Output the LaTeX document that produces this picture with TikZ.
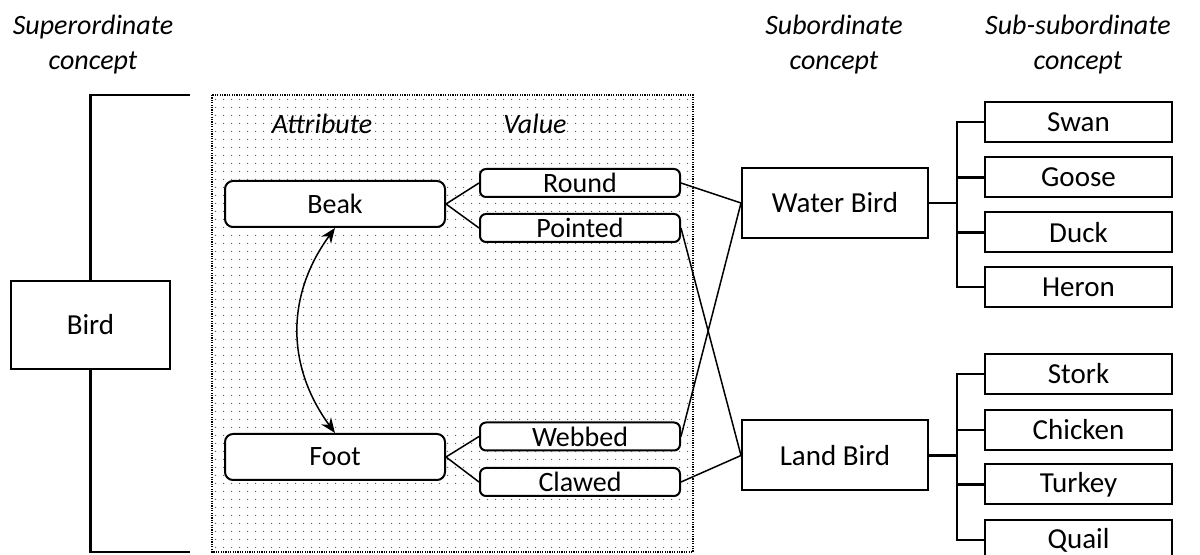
\documentclass[tikz,border=0pt]{standalone}
\usepackage{fontspec}
\setmainfont{Carlito}
\usetikzlibrary{patterns.meta,arrows.meta}
\begin{document}
\begin{tikzpicture}[x=0.5pt,y=-0.5pt,
 box/.style={draw,line width=1pt,inner sep=0pt,font=\fontsize{14.5}{17}\selectfont,fill=white},
 big/.style={box,minimum width=93pt,minimum height=35pt},
 leaf/.style={box,minimum width=93.5pt,minimum height=20pt},
 attr/.style={box,rounded corners=4pt,minimum width=110pt,minimum height=23pt,font=\fontsize{14}{17}\selectfont},
 val/.style={box,rounded corners=3pt,minimum width=100pt,minimum height=14pt,font=\fontsize{14}{17}\selectfont},
 head/.style={align=center,font=\fontsize{14}{17.5}\selectfont\itshape,inner sep=0pt},
 conn/.style={line width=0.75pt},
 tree/.style={line width=1.4pt},
 bracket/.style={line width=1.4pt}]
\useasboundingbox (0,0) rectangle (1200,555);
\clip (0,0) rectangle (1200,555);

% headers
\node[head] (hsup) at (93,45) {Superordinate\\concept};
\node[head] (hsub) at (834,45) {Subordinate\\concept};
\node[head] (hssub) at (1078,45) {Sub-subordinate\\concept};

% dotted region
\draw[line width=0.8pt,dash pattern=on 0.6pt off 0.6pt,
      pattern={Dots[distance=4pt,radius=0.4pt]},pattern color=black!60]
  (212,95) rectangle (693,552);
\node[head] (hattr) at (322,124) {Attribute};
\node[head] (hval) at (535,124) {Value};

% bird bracket
\node[box,minimum width=79.5pt,minimum height=44pt] (bird) at (90.5,325) {Bird};
\coordinate (bt) at (190,95);
\coordinate (bb) at (190,552);
\draw[bracket] (bt) -| (bird.north);
\draw[bracket] (bird.south) |- (bb);

% attributes and values
\node[attr] (beak) at (335,204) {Beak};
\node[attr] (foot) at (335,457) {Foot};
\node[val] (round) at (580,183) {Round};
\node[val] (pointed) at (580,228) {Pointed};
\node[val] (webbed) at (580,436.5) {Webbed};
\node[val] (clawed) at (580,482) {Clawed};

\draw[conn] (beak.east) -- (round.west);
\draw[conn] (beak.east) -- (pointed.west);
\draw[conn] (foot.east) -- (webbed.west);
\draw[conn] (foot.east) -- (clawed.west);

\draw[conn,{Stealth[length=7.5pt,width=6pt]}-{Stealth[length=7.5pt,width=6pt]}]
  (beak.south) .. controls (286,295) and (286,366) .. (foot.north);

% subordinate
\node[big] (water) at (835,203) {Water Bird};
\node[big] (land) at (835,455.5) {Land Bird};

\draw[conn] (round.east) -- (water.west);
\draw[conn] (webbed.east) -- (water.west);
\draw[conn] (pointed.east) -- (land.west);
\draw[conn] (clawed.east) -- (land.west);

% sub-subordinate
\node[leaf] (swan) at (1078.5,122) {Swan};
\node[leaf] (goose) at (1078.5,177.5) {Goose};
\node[leaf] (duck) at (1078.5,232.5) {Duck};
\node[leaf] (heron) at (1078.5,287) {Heron};
\node[leaf] (stork) at (1078.5,374) {Stork};
\node[leaf] (chicken) at (1078.5,430) {Chicken};
\node[leaf] (turkey) at (1078.5,484.5) {Turkey};
\node[leaf] (quail) at (1078.5,540) {Quail};

\draw[tree] (water.east) -- ++(28,0) coordinate (wj);
\draw[tree] (swan.west) -| (wj) |- (heron.west);
\draw[tree] (goose.west) -- (goose.west -| wj);
\draw[tree] (duck.west) -- (duck.west -| wj);

\draw[tree] (land.east) -- ++(28,0) coordinate (lj);
\draw[tree] (stork.west) -| (lj) |- (quail.west);
\draw[tree] (chicken.west) -- (chicken.west -| lj);
\draw[tree] (turkey.west) -- (turkey.west -| lj);
\end{tikzpicture}
\end{document}
